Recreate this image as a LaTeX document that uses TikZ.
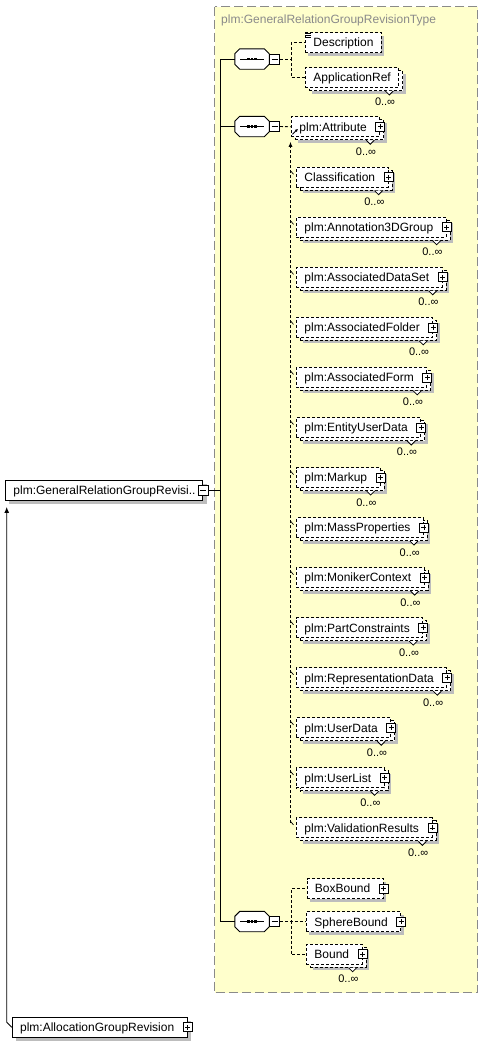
\documentclass[tikz,border=0pt]{standalone}
\usepackage{fontspec}
\setmainfont{Liberation Sans}
\usetikzlibrary{arrows.meta,calc,positioning,shadows}
\definecolor{typeyellow}{HTML}{FFFFCC}
\definecolor{framegray}{HTML}{8A8A8A}
\definecolor{shadowgray}{HTML}{BDBDBD}
\tikzset{
  conn/.style={line width=0.9pt,black},
  optconn/.style={conn,dash pattern=on 3pt off 2pt},
  elembase/.style={fill=white,line width=0.9pt,minimum height=20pt,inner xsep=0pt,inner ysep=0pt,
    text height=8.6pt,text depth=0pt,anchor=west,font=\fontsize{12}{14}\selectfont,
    execute at begin node=\hspace*{8pt}},
  withplus/.style={execute at end node=\hspace*{13pt}},
  noplus/.style={execute at end node=\hspace*{8pt}},
  reqelem/.style={elembase,draw=black,
    drop shadow={shadow xshift=4pt,shadow yshift=-4pt,fill=shadowgray,opacity=1}},
  optelem/.style={elembase,draw=black,dash pattern=on 3pt off 2pt,
    drop shadow={shadow xshift=3pt,shadow yshift=-3pt,fill=shadowgray,opacity=1}},
  multielem/.style={elembase,draw=black,dash pattern=on 3pt off 2pt,
    drop shadow={shadow xshift=7pt,shadow yshift=-6pt,fill=shadowgray,opacity=1},
    copy shadow={shadow xshift=4pt,shadow yshift=-3pt,fill=white,draw=black,line width=0.9pt,dash pattern=on 3pt off 2pt}},
  plusbox/.style={draw=black,solid,line width=0.8pt,fill=white,minimum size=9pt,inner sep=0pt,
    path picture={\draw[line width=0.8pt] ([xshift=2pt]path picture bounding box.west) -- ([xshift=-2pt]path picture bounding box.east)
      ([yshift=-2pt]path picture bounding box.north) -- ([yshift=2pt]path picture bounding box.south);}},
  minusbox/.style={draw=black,solid,line width=0.8pt,fill=white,minimum size=10pt,inner sep=0pt,
    path picture={\draw[line width=0.8pt] ([xshift=2pt]path picture bounding box.west) -- ([xshift=-2pt]path picture bounding box.east);}},
  seqbox/.style={minimum width=34pt,minimum height=20pt,inner sep=0pt},
  seqshadow/.style={fill=shadowgray,shift={(3,3)}},
  seqframe/.style={fill=white,draw=black,line width=0.9pt},
  occurs/.style={anchor=base east,inner sep=0pt,font=\fontsize{11}{12}\selectfont},
  notch/.style={line width=0.8pt,fill=white}
}
\begin{document}
\begin{tikzpicture}[x=1pt,y=-1pt]
  \useasboundingbox (0,0) rectangle (483,1044);
  % complex type frame
  \fill[typeyellow] (214.5,6.5) rectangle (477.7,992.7);
  \draw[framegray,line width=1.2pt,dash pattern=on 9pt off 4pt] (214.5,6.5) rectangle (477.7,992.7);
  \node[anchor=base west,inner sep=0pt,text=framegray,font=\fontsize{12}{14}\selectfont] (title) at (221,23.5) {plm:GeneralRelationGroupRevisionType};

  % outer elements
  \node[reqelem,execute at end node=\hspace*{7pt}] (gen) at (5,490) {plm:GeneralRelationGroupRevisi..};
  \node[minusbox] (genm) at (gen.east) {};
  \node[reqelem,withplus] (alloc) at (11.7,1027.3) {plm:AllocationGroupRevision};
  \node[plusbox] (allocp) at (alloc.east) {};
  \draw[conn,-{Latex[length=6pt,width=5pt]}] (alloc.west) -- ++(-5,-5) coordinate (bend)
    -- ([yshift=-6.5pt]bend |- gen.south);

  % sequences
  \node[seqbox] (s1) at (252,59) {};
  \node[seqbox] (s2) at (252,126.5) {};
  \node[seqbox] (s3) at (252,921.5) {};
  \foreach \s in {s1,s2,s3}{
    \foreach \op in {seqshadow,seqframe}
      \path[\op] ([shift={(5,0)}]\s.north west) -- ([shift={(-5,0)}]\s.north east)
        -- ([shift={(0,5)}]\s.north east) -- ([shift={(0,-5)}]\s.south east)
        -- ([shift={(-5,0)}]\s.south east) -- ([shift={(5,0)}]\s.south west)
        -- ([shift={(0,-5)}]\s.south west) -- ([shift={(0,5)}]\s.north west) -- cycle;
    \node[minusbox,anchor=west] (\s m) at (\s.east) {};
    \draw[line width=0.9pt] (\s.center) +(-12,0) -- +(12,0);
    \foreach \d in {-3.3,0,3.3}
      \fill (\s.center) +(\d-1.3,-1.3) rectangle +(\d+1.3,1.3);
  }
  \coordinate (trunk) at (220.5,490);
  \draw[conn] (genm.east) -- (trunk);
  \draw[conn] (s1.west) -- (s1.west -| trunk) -- (s3.west -| trunk) -- (s3.west);
  \draw[conn] (s2.west) -- (s2.west -| trunk);

  % first sequence
  \node[optelem,noplus] (desc) at (305,42.5) {Description};
  \foreach \d in {1,3,5}
    \draw[line width=0.6pt] ([shift={(1,\d)}]desc.north west) -- ++(4.5,0);
  \node[multielem,noplus] (appref) at (305,77.5) {ApplicationRef};
  \draw[optconn] (s1m.east) -- ++(11,0) |- (desc.west);
  \draw[optconn] (s1m.east) -- ++(11,0) |- (appref.west);

  % second sequence, substitution group
  \node[multielem,withplus] (attr) at (291,126.8) {plm:Attribute};
  \node[plusbox] (attrp) at (attr.east) {};
  \draw[line width=0.8pt,-{Latex[length=3pt,width=3pt]}] ([shift={(1.5,7.5)}]attr.west) -- ++(5.5,-5.5);
  \draw[optconn] (s2m.east) -- (attr.west);
  \foreach \txt [count=\i] in {Classification,plm:Annotation3DGroup,plm:AssociatedDataSet,
      plm:AssociatedFolder,plm:AssociatedForm,plm:EntityUserData,plm:Markup,plm:MassProperties,
      plm:MonikerContext,plm:PartConstraints,plm:RepresentationData,plm:UserData,plm:UserList,
      plm:ValidationResults}{
    \node[multielem,withplus] (m\i) at (296,{127.2+50.05*\i}) {\txt};
    \node[plusbox] (m\i p) at (m\i.east) {};
    \draw[conn,line width=0.7pt] ([shift={(-5,-6)}]m\i.west) -- ([shift={(-2.5,-3)}]m\i.west);
  }
  \coordinate (subend) at (290.5,823);
  \draw[optconn,-{Latex[length=5pt,width=4pt]}] (subend) -- ([yshift=-4.5pt]subend |- attr.south);

  % third sequence
  \node[optelem,withplus] (bbox) at (306.5,888.5) {BoxBound};
  \node[plusbox] (bboxp) at (bbox.east) {};
  \node[optelem,withplus] (sphere) at (306,921.7) {SphereBound};
  \node[plusbox] (spherep) at (sphere.east) {};
  \node[multielem,withplus] (bound) at (306,954.3) {Bound};
  \node[plusbox] (boundp) at (bound.east) {};
  \draw[optconn] (s3m.east) -- ++(11,0) |- (bbox.west);
  \draw[optconn] (s3m.east) -- ++(11,0) |- (sphere.west);
  \draw[optconn] (s3m.east) -- ++(11,0) |- (bound.west);

  % occurrence marks
  \foreach \el in {appref,attr,bound,m1,m2,m3,m4,m5,m6,m7,m8,m9,m10,m11,m12,m13,m14}{
    \filldraw[notch] ([shift={(-14,3)}]\el.south east) -- ++(4,4) -- ++(4,-4);
    \node[occurs] (\el occ) at ([shift={(-4,18)}]\el.south east) {0..∞};
  }
\end{tikzpicture}
\end{document}
